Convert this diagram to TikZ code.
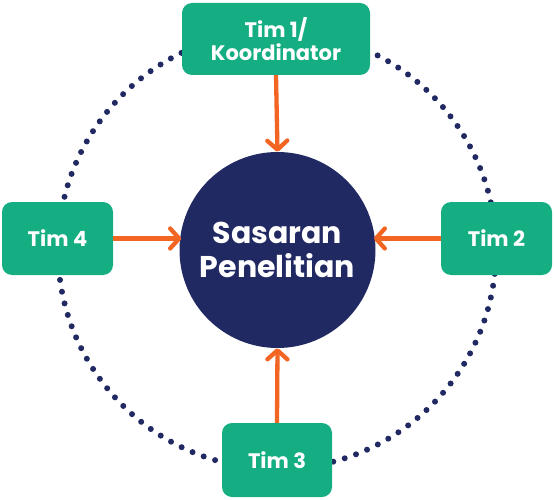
\documentclass[tikz,border=0pt]{standalone}
\usepackage{fontspec}
\setmainfont{Poppins}
\usetikzlibrary{arrows.meta}
\definecolor{tgreen}{RGB}{20,174,130}
\definecolor{tnavy}{RGB}{33,41,99}
\definecolor{torange}{RGB}{243,101,35}
\tikzset{
  teambox/.style={fill=tgreen, rounded corners=10pt, text=white, align=center,
    font=\fontsize{21}{22.5}\selectfont\bfseries, inner sep=0pt},
  hub/.style={circle, fill=tnavy, minimum size=196pt, inner sep=0pt, text=white,
    align=center, font=\fontsize{30}{34}\selectfont\bfseries},
  flow/.style={torange, line width=4.3pt, -{Straight Barb[length=9pt,width=20pt,line cap=round,line join=round]}},
  ring/.style={tnavy, line width=6pt, line cap=round, dash pattern=on 0pt off 11.965pt}
}
\begin{document}
\begin{tikzpicture}[x=1pt, y=-1pt]
\useasboundingbox (0,0) rectangle (554,500);
\draw[ring] (277,250) circle (219);
\node[hub] (c) at (277.5,250) {Sasaran\\Penelitian};
\node[teambox, minimum width=188pt, minimum height=72pt] (t1) at (276,39) {Tim 1/\\Koordinator};
\node[teambox, minimum width=111pt, minimum height=73pt] (t4) at (57.5,238.5) {Tim 4};
\node[teambox, minimum width=111pt, minimum height=73pt] (t2) at (496.5,238.5) {Tim 2};
\node[teambox, minimum width=110pt, minimum height=74pt] (t3) at (277,460) {Tim 3};
\draw[flow] (t1.south) -- (c.north);
\draw[flow] (t3.north) -- (c.south);
\draw[flow] (t4.east) -- ([xshift=2pt]t4.east -| c.west);
\draw[flow] (t2.west) -- ([xshift=-2pt]t2.west -| c.east);
\end{tikzpicture}
\end{document}
